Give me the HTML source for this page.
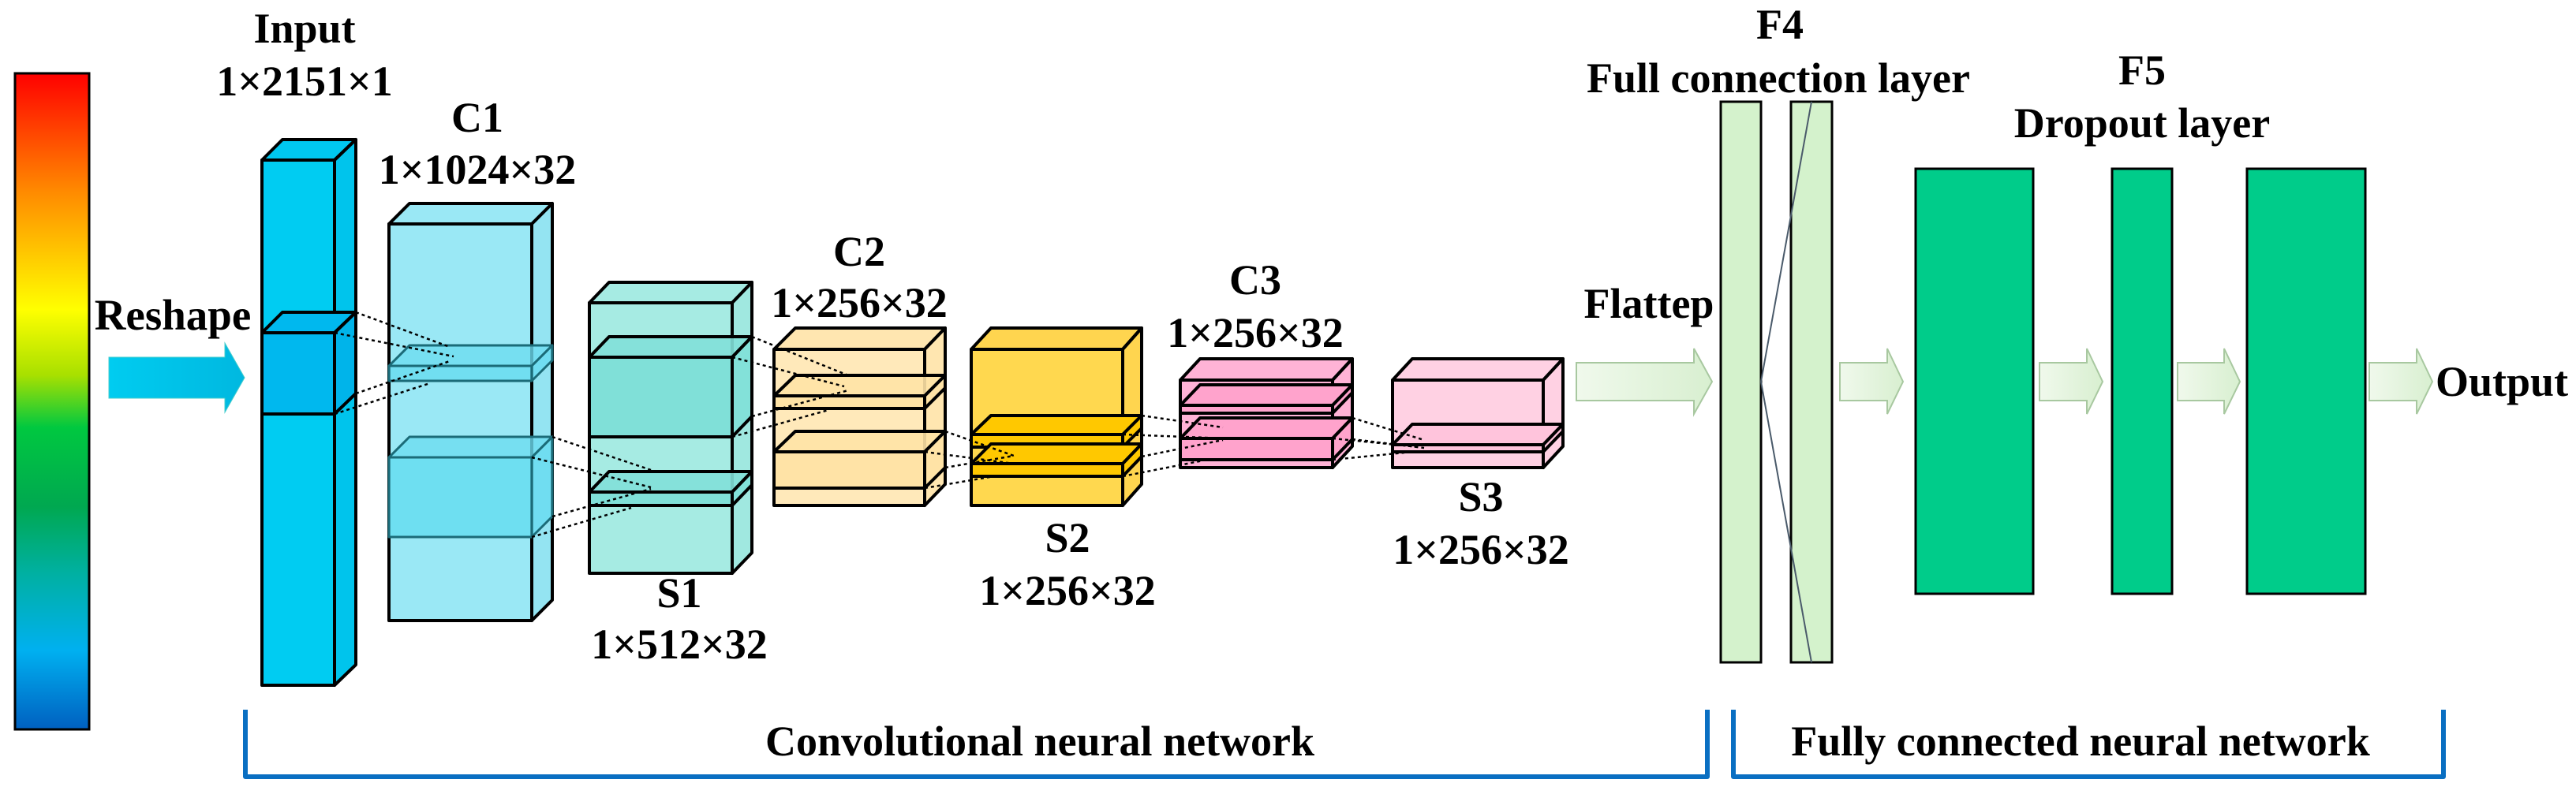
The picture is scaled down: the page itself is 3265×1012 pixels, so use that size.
<!DOCTYPE html>
<html><head><meta charset="utf-8"><style>
html,body{margin:0;padding:0;background:#fff;}
svg{display:block}
text{font-family:"Liberation Serif",serif;font-weight:bold;fill:#000;}
</style></head><body>
<svg width="3265" height="1012" viewBox="0 0 3265 1012" xmlns="http://www.w3.org/2000/svg">
<defs>
<linearGradient id="cb" x1="0" y1="0" x2="0" y2="1">
<stop offset="0" stop-color="#ff0000"/>
<stop offset="0.18" stop-color="#ff8a00"/>
<stop offset="0.36" stop-color="#ffff00"/>
<stop offset="0.46" stop-color="#a8e000"/>
<stop offset="0.54" stop-color="#00c840"/>
<stop offset="0.66" stop-color="#00a850"/>
<stop offset="0.76" stop-color="#00b0a0"/>
<stop offset="0.88" stop-color="#00b0f0"/>
<stop offset="1" stop-color="#0060c0"/>
</linearGradient>
<linearGradient id="ga" x1="0" y1="0" x2="1" y2="0">
<stop offset="0" stop-color="#f0f9ec"/><stop offset="1" stop-color="#d8efd0"/>
</linearGradient>
<linearGradient id="ra" x1="0" y1="0" x2="1" y2="0">
<stop offset="0" stop-color="#00ccf0"/><stop offset="1" stop-color="#00b8e0"/>
</linearGradient>
</defs>

<rect x="19" y="93" width="94" height="832" fill="url(#cb)" stroke="#000" stroke-width="3"/>

<text x="219" y="418" font-size="55" text-anchor="middle">Reshape</text>
<polygon points="138,453 285,453 285,435 310,479 285,523 285,505 138,505" fill="url(#ra)" stroke="#4cc" stroke-width="1"/>

<g stroke="#000" stroke-width="4" stroke-linejoin="round">
<polygon points="332,203 358,177 451,177 424,203" fill="#00c8f0"/>
<polygon points="424,203 451,177 451,843 424,869" fill="#00c4ec"/>
<rect x="332" y="203" width="92" height="666" fill="#00ccf2"/>
<polygon points="332,422 358,396 451,396 424,422" fill="#00b8ee"/>
<rect x="332" y="422" width="92" height="103" fill="#00b8ee"/>
<polygon points="424,422 451,396 451,499 424,525" fill="#00b4ea"/>

<polygon points="493,284 519,258 700,258 674,284" fill="#9ae8f5"/>
<polygon points="674,284 700,258 700,761 674,787" fill="#94e4f2"/>
<rect x="493" y="284" width="181" height="503" fill="#9ae8f5"/>
<g stroke-width="3" stroke="#1b6b78">
<polygon points="493,464 519,438 700,438 674,464" fill="#6ddcf0" fill-opacity="0.8"/>
<rect x="493" y="464" width="181" height="19" fill="#66dbf0" fill-opacity="0.8"/>
<polygon points="674,464 700,438 700,457 674,483" fill="#66dbf0" fill-opacity="0.8"/>
<polygon points="493,580 519,554 700,554 674,580" fill="#6ddcf0" fill-opacity="0.8"/>
<rect x="493" y="580" width="181" height="101" fill="#66ddf0" fill-opacity="0.85"/>
<polygon points="674,580 700,554 700,655 674,681" fill="#66dbf0" fill-opacity="0.8"/>
</g>

<polygon points="747,384 772,358 953,358 928,384" fill="#a6ebe3"/>
<polygon points="928,384 953,358 953,701 928,727" fill="#a0e8e0"/>
<rect x="747" y="384" width="181" height="343" fill="#a6ebe3"/>
<polygon points="747,453 772,427 953,427 928,453" fill="#82e0d8" fill-opacity="0.9"/>
<rect x="747" y="453" width="181" height="101" fill="#80e0d8"/>
<polygon points="928,453 953,427 953,528 928,554" fill="#80e0d8" fill-opacity="0.9"/>
<polygon points="747,624 772,598 953,598 928,624" fill="#82e0d8" fill-opacity="0.9"/>
<rect x="747" y="624" width="181" height="17" fill="#80e0d8"/>
<polygon points="928,624 953,598 953,615 928,641" fill="#80e0d8" fill-opacity="0.9"/>

<polygon points="981,443 1008,416 1198,416 1172,443" fill="#ffe6b0"/>
<polygon points="1172,443 1198,416 1198,614 1172,641" fill="#ffe6b0"/>
<rect x="981" y="443" width="191" height="198" fill="#ffe9ba"/>
<polygon points="981,502 1008,476 1198,476 1172,502" fill="#ffe3a6" fill-opacity="0.9"/>
<rect x="981" y="502" width="191" height="16" fill="#ffe3a6"/>
<polygon points="1172,502 1198,476 1198,492 1172,518" fill="#ffe3a6"/>
<polygon points="981,573 1008,547 1198,547 1172,573" fill="#ffe3a6" fill-opacity="0.9"/>
<rect x="981" y="573" width="191" height="46" fill="#ffe3a6"/>
<polygon points="1172,573 1198,547 1198,593 1172,619" fill="#ffe3a6"/>

<polygon points="1231,443 1256,416 1447,416 1423,443" fill="#ffd54f"/>
<polygon points="1423,443 1447,416 1447,614 1423,641" fill="#ffd54f"/>
<rect x="1231" y="443" width="192" height="198" fill="#ffd84f"/>
<polygon points="1231,551 1256,527 1447,527 1423,551" fill="#ffc800"/>
<rect x="1231" y="551" width="192" height="16" fill="#ffc800"/>
<polygon points="1423,551 1447,527 1447,543 1423,567" fill="#ffc800"/>
<polygon points="1231,588 1256,563 1447,563 1423,588" fill="#ffc800"/>
<rect x="1231" y="588" width="192" height="16" fill="#ffc800"/>
<polygon points="1423,588 1447,563 1447,579 1423,604" fill="#ffc800"/>

<polygon points="1496,482 1521,455 1714,455 1689,482" fill="#ffb3d6"/>
<polygon points="1689,482 1714,455 1714,566 1689,593" fill="#ffb3d6"/>
<rect x="1496" y="482" width="193" height="111" fill="#ffb3d6"/>
<polygon points="1496,514 1521,488 1714,488 1689,514" fill="#ffa3cc"/>
<rect x="1496" y="514" width="193" height="10" fill="#ffa3cc"/>
<polygon points="1689,514 1714,488 1714,498 1689,524" fill="#ffa3cc"/>
<polygon points="1496,556 1521,530 1714,530 1689,556" fill="#ffa3cc"/>
<rect x="1496" y="556" width="193" height="27" fill="#ffa3cc"/>
<polygon points="1689,556 1714,530 1714,557 1689,583" fill="#ffa3cc"/>

<polygon points="1765,482 1790,455 1981,455 1956,482" fill="#ffd1e3"/>
<polygon points="1956,482 1981,455 1981,566 1956,593" fill="#ffd1e3"/>
<rect x="1765" y="482" width="191" height="111" fill="#ffd1e3"/>
<polygon points="1765,564 1790,538 1981,538 1956,564" fill="#ffc4dc"/>
<rect x="1765" y="564" width="191" height="9" fill="#ffc4dc"/>
<polygon points="1956,564 1981,538 1981,547 1956,573" fill="#ffc4dc"/>
</g>

<g stroke="#000" stroke-width="2.5" stroke-dasharray="4,4" fill="none">
<line x1="451" y1="396" x2="570" y2="440"/>
<line x1="424" y1="422" x2="575" y2="452"/>
<line x1="451" y1="499" x2="570" y2="458"/>
<line x1="424" y1="525" x2="545" y2="486"/>
<line x1="700" y1="554" x2="825" y2="596"/>
<line x1="674" y1="580" x2="825" y2="618"/>
<line x1="700" y1="655" x2="825" y2="620"/>
<line x1="674" y1="681" x2="800" y2="644"/>
<line x1="953" y1="427" x2="1075" y2="476"/>
<line x1="928" y1="453" x2="1070" y2="490"/>
<line x1="953" y1="528" x2="1075" y2="495"/>
<line x1="928" y1="554" x2="1050" y2="520"/>
<line x1="1198" y1="547" x2="1285" y2="578"/>
<line x1="1172" y1="573" x2="1285" y2="588"/>
<line x1="1198" y1="593" x2="1285" y2="578"/>
<line x1="1172" y1="619" x2="1260" y2="604"/>
<line x1="1447" y1="527" x2="1550" y2="542"/>
<line x1="1423" y1="551" x2="1555" y2="556"/>
<line x1="1447" y1="579" x2="1550" y2="558"/>
<line x1="1423" y1="604" x2="1525" y2="584"/>
<line x1="1714" y1="530" x2="1805" y2="558"/>
<line x1="1689" y1="556" x2="1800" y2="567"/>
<line x1="1714" y1="557" x2="1805" y2="568"/>
<line x1="1689" y1="583" x2="1780" y2="574"/>
</g>

<g font-size="54" text-anchor="middle">
<text x="386" y="54">Input</text>
<text x="386" y="121">1×2151×1</text>
<text x="605" y="167">C1</text>
<text x="605" y="233">1×1024×32</text>
<text x="861" y="770">S1</text>
<text x="861" y="835">1×512×32</text>
<text x="1089" y="337">C2</text>
<text x="1089" y="402">1×256×32</text>
<text x="1353" y="700">S2</text>
<text x="1353" y="767">1×256×32</text>
<text x="1591" y="373">C3</text>
<text x="1591" y="440">1×256×32</text>
<text x="1877" y="648">S3</text>
<text x="1877" y="715">1×256×32</text>
<text x="2090" y="403">Flattep</text>
<text x="2256" y="49">F4</text>
<text x="2254" y="117">Full connection layer</text>
<text x="2715" y="107">F5</text>
<text x="2715" y="174">Dropout layer</text>
<text x="1318" y="958">Convolutional neural network</text>
<text x="2637" y="958">Fully connected neural network</text>
</g>

<g fill="url(#ga)" stroke="#a8c8a0" stroke-width="2">
<polygon points="1998,460 2147,460 2147,442 2170,484 2147,525 2147,508 1998,508"/>
<polygon points="2332,460 2392,460 2392,442 2412,484 2392,525 2392,508 2332,508"/>
<polygon points="2585,460 2645,460 2645,442 2665,484 2645,525 2645,508 2585,508"/>
<polygon points="2760,460 2819,460 2819,442 2839,484 2819,525 2819,508 2760,508"/>
<polygon points="3003,460 3063,460 3063,442 3083,484 3063,525 3063,508 3003,508"/>
</g>

<rect x="2181" y="129" width="51" height="711" fill="#d4f2cc" stroke="#000" stroke-width="3"/>
<rect x="2270" y="129" width="52" height="711" fill="#d4f2cc" stroke="#000" stroke-width="3"/>
<line x1="2232" y1="484" x2="2296" y2="129" stroke="#4a5a6a" stroke-width="2"/>
<line x1="2232" y1="484" x2="2296" y2="840" stroke="#4a5a6a" stroke-width="2"/>

<g fill="#00cc8a" stroke="#000" stroke-width="3">
<rect x="2428" y="214" width="149" height="539"/>
<rect x="2677" y="214" width="76" height="539"/>
<rect x="2848" y="214" width="150" height="539"/>
</g>
<text x="3087" y="502" font-size="54">Output</text>

<g fill="none" stroke="#0a6fc2" stroke-width="6" stroke-linejoin="round">
<polyline points="311,900 311,985 2164,985 2164,900"/>
<polyline points="2197,900 2197,985 3097,985 3097,900"/>
</g>
</svg>
</body></html>
